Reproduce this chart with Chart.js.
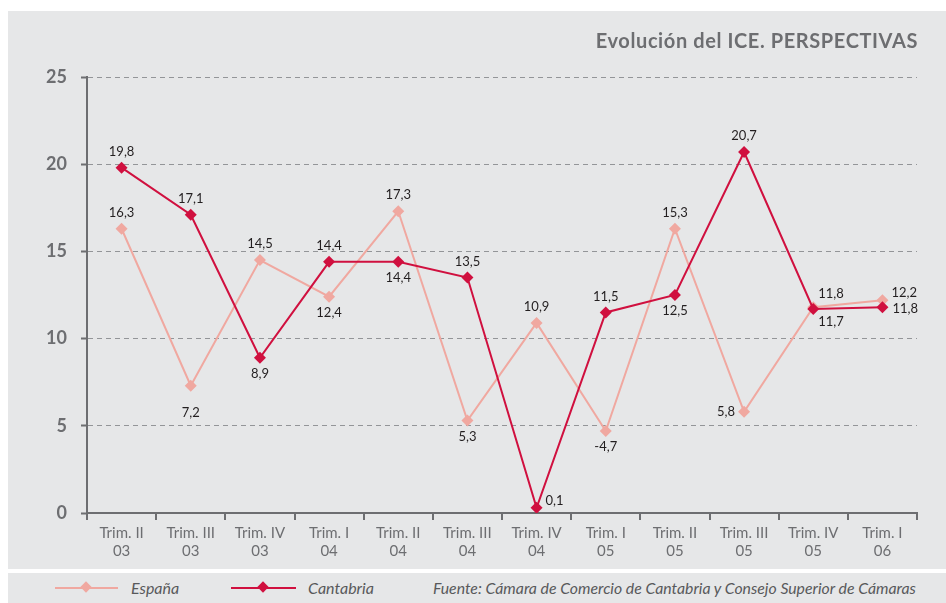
<!DOCTYPE html>
<html>
<head>
<meta charset="utf-8">
<script src="https://cdn.jsdelivr.net/npm/chart.js@4"></script>
<style>
    body { margin: 0; background: #fff; width: 946px; height: 603px; position: relative; overflow: hidden; font-family: Lato, sans-serif; }
    .panel { position: absolute; left: 8px; top: 11px; width: 938px; height: 558px; background: #e6e7e8; }
    .title { position: absolute; right: 28px; top: 17px; font-size: 20px; font-weight: bold; color: #6d6e71; letter-spacing: 0.6px; }
    canvas { position: absolute; left: 0; top: 0; }
    .legend { position: absolute; left: 8px; top: 573px; width: 938px; height: 30px; background: #e6e7e8; }
    .legend span { position: absolute; top: 5px; font-style: italic; color: #58595b; font-size: 16px; }
    .legend .line { position: absolute; top: 14px; height: 2px; }
    .legend .dot { position: absolute; top: 10px; width: 8px; height: 8px; transform: rotate(45deg); }
</style>
</head>
<body>
<div class="panel">
    <canvas id="myChart" width="938" height="558"></canvas>
    <div class="title">Evolución del ICE. PERSPECTIVAS</div>
</div>
<div class="legend">
    <div class="line" style="left:47px; width:63px; background:#f0a8a0"></div>
    <div class="dot" style="left:74px; background:#f0a8a0"></div>
    <span style="left:123px">España</span>
    <div class="line" style="left:223px; width:65px; background:#d0103f"></div>
    <div class="dot" style="left:251px; background:#d0103f"></div>
    <span style="left:300px">Cantabria</span>
    <span style="left:425px; font-size:15.8px; top:5px">Fuente: Cámara de Comercio de Cantabria y Consejo Superior de Cámaras</span>
</div>
<script>
const quarters = [
    ['Trim. II', '03'], ['Trim. III', '03'], ['Trim. IV', '03'],
    ['Trim. I', '04'], ['Trim. II', '04'], ['Trim. III', '04'], ['Trim. IV', '04'],
    ['Trim. I', '05'], ['Trim. II', '05'], ['Trim. III', '05'], ['Trim. IV', '05'],
    ['Trim. I', '06']
];

// plotted where the points sit in the picture; the printed labels differ in a few places
const espana = [16.3, 7.3, 14.5, 12.4, 17.3, 5.3, 10.9, 4.7, 16.3, 5.8, 11.8, 12.2];
const espanaText = ['16,3', '7,2', '14,5', '12,4', '17,3', '5,3', '10,9', '-4,7', '15,3', '5,8', '11,8', '12,2'];
const espanaPlace = ['top', 'bottomFar', 'top', 'bottom', 'top', 'bottom', 'top', 'bottom', 'top', 'left', 'topRight', 'upRight'];

const cantabria = [19.8, 17.1, 8.9, 14.4, 14.4, 13.5, 0.3, 11.5, 12.5, 20.7, 11.7, 11.8];
const cantabriaText = ['19,8', '17,1', '8,9', '14,4', '14,4', '13,5', '0,1', '11,5', '12,5', '20,7', '11,7', '11,8'];
const cantabriaPlace = ['top', 'top', 'bottom', 'top', 'bottom', 'top', 'upRight', 'top', 'bottom', 'top', 'bottomRight', 'right'];

const yTicks = [0, 5, 10, 15, 20, 25];

const gray = '#6d6e71';
const offsets = {
    top: [0, -16, 'center'],
    bottom: [0, 16, 'center'],
    bottomFar: [0, 27, 'center'],
    left: [-9, 0, 'right'],
    right: [10, 2, 'left'],
    upRight: [9, -7, 'left'],
    topRight: [5, -13, 'left'],
    bottomRight: [5, 13, 'left']
};

const pointLabels = {
    id: 'pointLabels',
    afterDatasetsDraw(chart) {
        const ctx = chart.ctx;
        ctx.save();
        ctx.font = '13px Lato';
        ctx.fillStyle = '#231f20';
        ctx.textBaseline = 'middle';
        chart.data.datasets.forEach((ds, d) => {
            chart.getDatasetMeta(d).data.forEach((pt, i) => {
                const o = offsets[ds.place[i]];
                ctx.textAlign = o[2];
                ctx.fillText(ds.texts[i], pt.x + o[0], pt.y + o[1]);
            });
        });
        ctx.restore();
    }
};

new Chart(document.getElementById('myChart'), {
    type: 'line',
    data: {
        labels: quarters,
        datasets: [{
            label: 'España',
            data: espana,
            texts: espanaText,
            place: espanaPlace,
            borderColor: '#f0a8a0',
            backgroundColor: '#f0a8a0',
            borderWidth: 2,
            pointStyle: 'rectRot',
            pointRadius: 6,
            pointBorderWidth: 0,
            order: 1
        }, {
            label: 'Cantabria',
            data: cantabria,
            texts: cantabriaText,
            place: cantabriaPlace,
            borderColor: '#d0103f',
            backgroundColor: '#d0103f',
            borderWidth: 2,
            pointStyle: 'rectRot',
            pointRadius: 6,
            pointBorderWidth: 0,
            order: 0
        }]
    },
    options: {
        responsive: false,
        animation: false,
        layout: { padding: { top: 66, right: 29, left: 0, bottom: 0 } },
        plugins: { legend: { display: false }, tooltip: { enabled: false } },
        scales: {
            x: {
                offset: true,
                afterFit: (s) => { s.height = 56; },
                grid: { offset: true, drawOnChartArea: false, tickLength: 7, color: gray, lineWidth: 2 },
                border: { color: gray, width: 2 },
                ticks: { color: gray, font: { family: 'Lato', size: 15 }, padding: 4, maxRotation: 0, autoSkip: false }
            },
            y: {
                min: 0,
                max: 25,
                afterFit: (s) => { s.width = 79; },
                afterBuildTicks: (s) => { s.ticks = yTicks.map(v => ({ value: v })); },
                grid: { color: '#939598', lineWidth: 1, tickLength: 6, tickColor: gray, tickWidth: 2, tickBorderDash: [1, 0] },
                border: { color: gray, width: 2, dash: [5, 4] },
                ticks: { color: gray, font: { family: 'Lato', size: 18, weight: 'bold' }, padding: 14 }
            }
        }
    },
    plugins: [pointLabels]
});
</script>
</body>
</html>
